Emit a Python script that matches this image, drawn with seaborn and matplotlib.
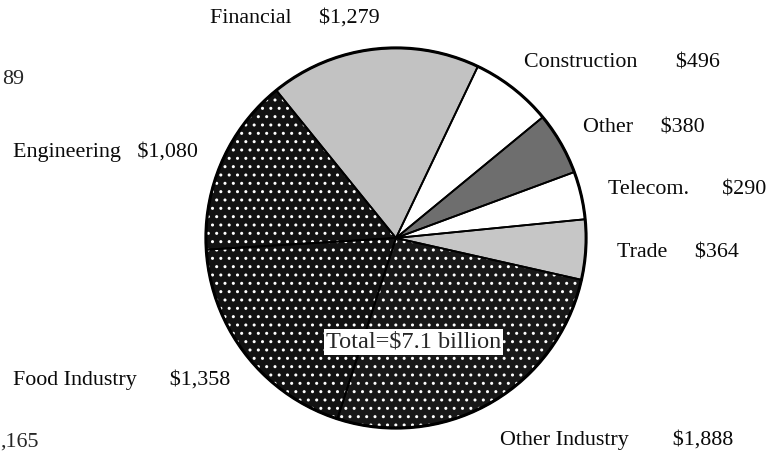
import matplotlib
matplotlib.use("Agg")
import matplotlib.pyplot as plt
import seaborn as sns
from matplotlib.patches import Circle

# values in $ million, counter-clockwise from the lower right
sectors = ['Trade', 'Telecom.', 'Other', 'Construction', 'Financial',
           'Engineering', 'Food Industry', 'Other Industry']
values = [364, 290, 380, 496, 1279, 1080, 1358, 1888]
total_label = 'Total=\\$7.1 billion'
# cut-off labels at the left edge of the scan
stray_labels = ['89', ',165']

faces = ['#c6c6c6', 'white', '#6e6e6e', 'white', '#c2c2c2',
         '#121212', '#121212', '#181818']
hatches = ['', '', '', '', '', '..', '..', '..']

# label layout in pixels (x of left edge, y of centre), gap between name and value
label_pos = {
    'Trade': (617, 253, '     '),
    'Telecom.': (608, 190, '      '),
    'Other': (583, 128, '     '),
    'Construction': (524, 63, '       '),
    'Financial': (210, 18, '     '),
    'Engineering': (13, 152, '   '),
    'Food Industry': (13, 380, '      '),
    'Other Industry': (500, 440, '        '),
}
W, H = 783, 454

sns.set_theme(style='white')
plt.rcParams['font.family'] = ['Liberation Serif', 'DejaVu Serif']
plt.rcParams['hatch.linewidth'] = 1.0

fig = plt.figure(figsize=(W / 100, H / 100), dpi=100)
fig.patch.set_facecolor('white')

cx, cy, r = 396, 238, 192
ax = fig.add_axes([(cx - r) / W, 1 - (cy + r) / H, 2 * r / W, 2 * r / H])

start = -12.7
wedges, _ = ax.pie(values, colors=faces, startangle=start, counterclock=True,
                   radius=1, wedgeprops=dict(edgecolor='white', linewidth=0))
for w, h in zip(wedges, hatches):
    w.set_hatch(h)

# outlines on top
ax.pie(values, colors=['none'] * len(values), startangle=start, counterclock=True,
       radius=1, wedgeprops=dict(edgecolor='black', linewidth=1.3, fill=False))
ax.add_patch(Circle((0, 0), 1, fill=False, edgecolor='black', linewidth=2.2))

ax.set_xlim(-1.01, 1.01)
ax.set_ylim(-1.01, 1.01)
ax.set_aspect('equal')
ax.axis('off')

for name, val in zip(sectors, values):
    x, y, gap = label_pos[name]
    fig.text(x / W, 1 - y / H, f'{name}{gap}\\${val:,}', fontsize=15.8,
             color='#0a0a0a', ha='left', va='center')

fig.text(2 / W, 1 - 79 / H, stray_labels[0], fontsize=15.8, ha='left', va='center')
fig.text(0 / W, 1 - 442 / H, stray_labels[1], fontsize=15.8, ha='left', va='center')

fig.text(326 / W, 1 - 342 / H, total_label, fontsize=17.5, ha='left', va='center',
         bbox=dict(facecolor='white', edgecolor='none', pad=1.5))

fig.savefig('out.png', dpi=100, facecolor='white')
